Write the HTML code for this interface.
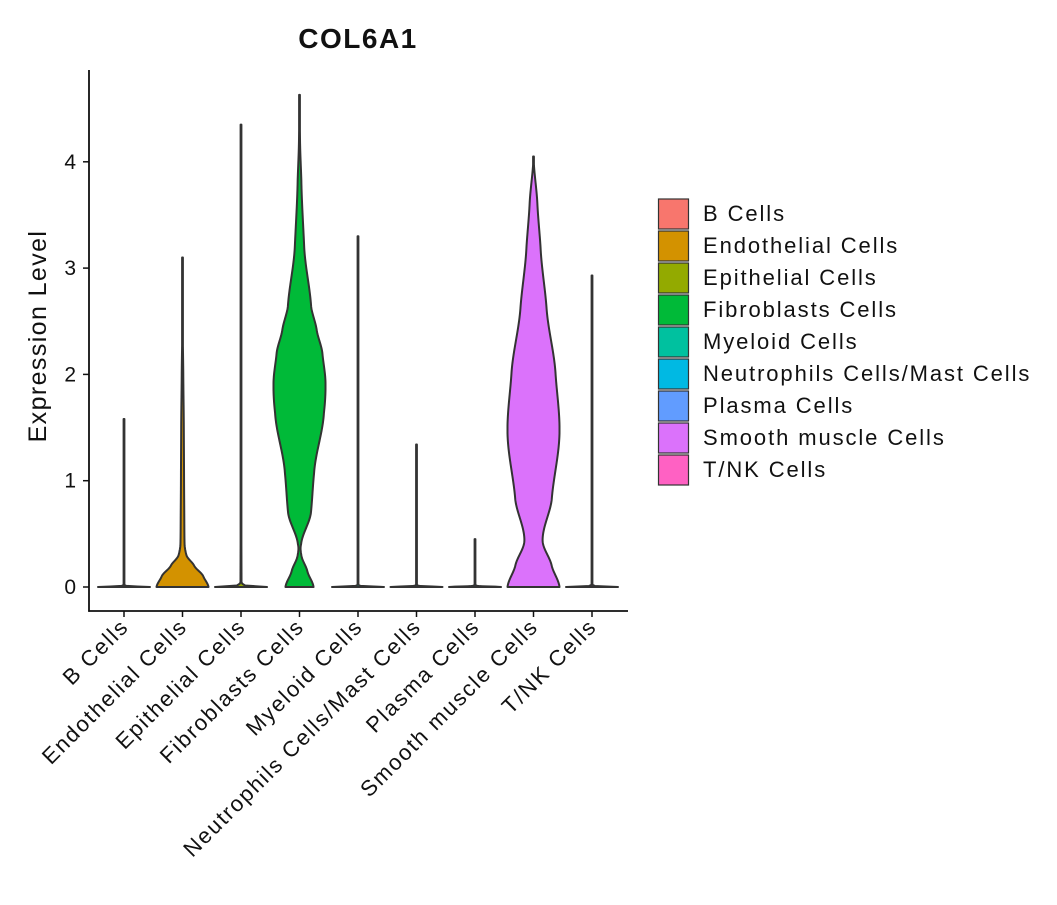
<!DOCTYPE html>
<html><head><meta charset="utf-8"><style>
body{margin:0;background:#fff}
svg text{font-family:"Liberation Sans",sans-serif;fill:#111}
</style></head><body>
<svg id="chart" width="1057" height="900" xmlns="http://www.w3.org/2000/svg">
<text x="358" y="48" text-anchor="middle" font-size="28" font-weight="bold" letter-spacing="1.5">COL6A1</text>
<text transform="translate(46,336) rotate(-90)" text-anchor="middle" font-size="25" letter-spacing="1.4">Expression Level</text>
<g id="plot"></g>
<g id="legend"></g>
</svg>
<script>
const categories = ["B Cells","Endothelial Cells","Epithelial Cells","Fibroblasts Cells","Myeloid Cells","Neutrophils Cells/Mast Cells","Plasma Cells","Smooth muscle Cells","T/NK Cells"];
const colors = ["#F8766D","#D39200","#93AA00","#00BA38","#00C19F","#00B9E3","#619CFF","#DB72FB","#FF61C3"];
const maxValues = [1.58,3.1,4.35,4.63,3.3,1.34,0.45,4.05,2.93];
const yTicks = [0,1,2,3,4];
// density profiles: [value, relative half-width]
const densB = [[0,1],[0.01,0.1],[0.03,0.01],[1.58,0]];
const densEndo = [[0,1],[0.1,0.8],[0.2,0.45],[0.3,0.15],[0.4,0.08],[0.6,0.07],[1.0,0.06],[1.5,0.05],[2.0,0.03],[2.4,0.01],[3.1,0]];
const densEpi = [[0,1],[0.01,0.2],[0.04,0.02],[4.35,0]];
const densFib = [[0,0.54],[0.15,0.3],[0.3,0.07],[0.4,0.06],[0.7,0.44],[1.07,0.56],[1.64,0.94],[1.92,1.0],[2.2,0.88],[2.42,0.66],[2.63,0.45],[3.2,0.18],[3.83,0.07],[4.2,0.02],[4.63,0]];
const densMye = [[0,1],[0.01,0.1],[0.03,0.01],[3.3,0]];
const densNeu = [[0,1],[0.01,0.1],[0.03,0.01],[1.34,0]];
const densPla = [[0,1],[0.01,0.1],[0.03,0.01],[0.45,0]];
const densSm = [[0,1.0],[0.2,0.7],[0.44,0.35],[0.82,0.7],[1.45,1.0],[2.0,0.85],[2.63,0.5],[3.2,0.27],[3.6,0.15],[4.05,0]];
const densT = [[0,1],[0.01,0.1],[0.03,0.01],[2.93,0]];
const densities = [densB,densEndo,densEpi,densFib,densMye,densNeu,densPla,densSm,densT];

const NS="http://www.w3.org/2000/svg";
const x0=124, dx=58.5, halfMax=26;
const xScale=i=>x0+i*dx;
const yScale=v=>587-v*106.3;
const plot=document.getElementById('plot');
function mk(tag,attrs,parent){const e=document.createElementNS(NS,tag);for(const k in attrs)e.setAttribute(k,attrs[k]);(parent||plot).appendChild(e);return e;}
function interp(d,v){
  for(let i=0;i<d.length-1;i++){
    if(v>=d[i][0]&&v<=d[i+1][0]){
      const a=d[i],b=d[i+1];const t=(v-a[0])/(b[0]-a[0]);
      const p0=(d[i-1]||a)[1],p1=a[1],p2=b[1],p3=(d[i+2]||b)[1];
      const m1=(p2-p0)/2,m2=(p3-p1)/2;
      const t2=t*t,t3=t2*t;
      const r=(2*t3-3*t2+1)*p1+(t3-2*t2+t)*m1*0.6+(-2*t3+3*t2)*p2+(t3-t2)*m2*0.6;
      return Math.max(Math.min(r,Math.max(p1,p2)),Math.min(p1,p2)*0.5);
    }
  }
  return 0;
}
categories.forEach((c,i)=>{
  const d=densities[i], cx=xScale(i), top=d[d.length-1][0];
  const n=300, L=[], R=[];
  for(let k=0;k<=n;k++){const v=top*k/n;const w=Math.max(interp(d,v)*halfMax,0.4);L.push([cx-w,yScale(v)]);R.push([cx+w,yScale(v)]);}
  let p="M"+L.map(q=>q[0].toFixed(2)+","+q[1].toFixed(2)).join("L");
  p+="L"+R.reverse().map(q=>q[0].toFixed(2)+","+q[1].toFixed(2)).join("L")+"Z";
  const el=mk('path',{d:p,fill:colors[i],stroke:"#333",'stroke-width':2,'stroke-linejoin':'round'});
  
  
  const tk=mk('line',{x1:cx,x2:cx,y1:611,y2:617,stroke:"#111",'stroke-width':1.5});
  
  
  const t=mk('text',{transform:`translate(${cx+6},${628}) rotate(-45)`,'text-anchor':'end','font-size':22,'letter-spacing':1.8});
  t.textContent=c;
  
  
});
yTicks.forEach(v=>{
  const y=yScale(v);
  const l=mk('line',{x1:83,x2:89,y1:y,y2:y,stroke:"#111",'stroke-width':1.5});
  
  
  const t=mk('text',{x:76,y:y+7,'text-anchor':'end','font-size':21});
  t.textContent=v;
  
  
});
const ya=mk('line',{x1:89,x2:89,y1:70,y2:611.7,stroke:"#111",'stroke-width':1.8});


const xa=mk('line',{x1:88.3,x2:628,y1:611,y2:611,stroke:"#111",'stroke-width':1.8});


const lg=document.getElementById('legend');
categories.forEach((c,i)=>{
  const y=199+i*32;
  const r=mk('rect',{x:658.5,y:y,width:30,height:30,fill:colors[i],stroke:"#333",'stroke-width':1.2},lg);
  
  
  const t=mk('text',{x:703,y:y+22,'font-size':22,'letter-spacing':1.9},lg);
  t.textContent=c;
  
  
});
</script>
</body></html>
